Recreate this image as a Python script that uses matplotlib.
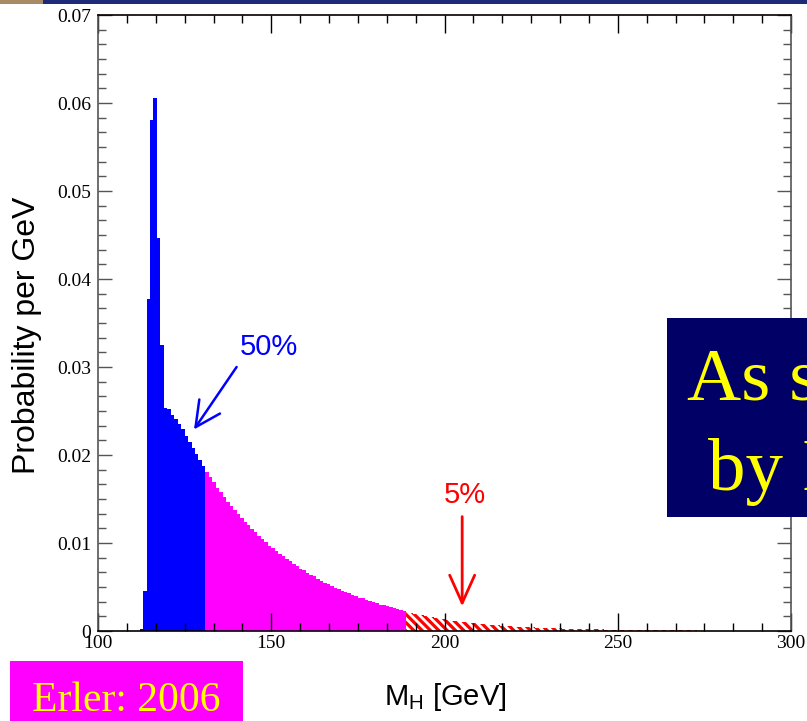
import matplotlib
matplotlib.use("Agg")
import numpy as np
import matplotlib.pyplot as plt
from matplotlib.ticker import MultipleLocator, AutoMinorLocator, FuncFormatter
from matplotlib.patches import Rectangle

# ---------------- data (probability per GeV, 1 GeV bins) ----------------
bin_width = 1.0

blue_start = 112  # 50% region
blue_vals = [0.0002, 0.0045, 0.0377, 0.0581, 0.0606, 0.0447, 0.0325,
             0.0253, 0.0252, 0.0246, 0.0241, 0.0235, 0.0229, 0.0222,
             0.0215, 0.0208, 0.0201, 0.0194, 0.0187]

pink_start = 131
pink_vals = [0.0181, 0.0175, 0.0169, 0.0163, 0.0158, 0.0152, 0.0147, 0.0142,
             0.0137, 0.0133, 0.0128, 0.0124, 0.0120, 0.0116, 0.0112, 0.0108,
             0.0104, 0.0101, 0.0097, 0.0094, 0.0091, 0.0088, 0.0085, 0.0082,
             0.0079, 0.0076, 0.0074, 0.0071, 0.0069, 0.0066, 0.0064, 0.0062,
             0.0059, 0.0057, 0.0055, 0.0053, 0.0051, 0.0049, 0.0048, 0.0046,
             0.0044, 0.0043, 0.0041, 0.0040, 0.0038, 0.0037, 0.0035, 0.0034,
             0.0033, 0.0032, 0.0030, 0.0029, 0.0028, 0.0027, 0.0026, 0.0025,
             0.0024, 0.0023]

red_start = 189  # upper 5% tail
red_vals = [0.00215, 0.00205, 0.00196, 0.00187, 0.00178, 0.00170, 0.00162,
            0.00155, 0.00148, 0.00141, 0.00134, 0.00128, 0.00122, 0.00117,
            0.00111, 0.00106, 0.00101, 0.00097, 0.00092, 0.00088, 0.00084,
            0.00080, 0.00077, 0.00073, 0.00070, 0.00067, 0.00064, 0.00061,
            0.00058, 0.00056, 0.00053, 0.00051, 0.00049, 0.00047, 0.00045,
            0.00043, 0.00041, 0.00039, 0.00038, 0.00036, 0.00035, 0.00033,
            0.00032, 0.00031, 0.00029, 0.00028, 0.00027, 0.00026, 0.00025,
            0.00024, 0.00023, 0.00022, 0.00021, 0.00020, 0.00019, 0.00019,
            0.00018, 0.00017, 0.00016, 0.00016, 0.00015, 0.00015, 0.00014,
            0.00013, 0.00013, 0.00012, 0.00012, 0.00011, 0.00011, 0.00010,
            0.00010, 0.00010, 0.00009, 0.00009, 0.00008, 0.00008, 0.00008,
            0.00007, 0.00007, 0.00007, 0.00006, 0.00006, 0.00006, 0.00006,
            0.00005, 0.00005, 0.00005, 0.00005, 0.00004, 0.00004, 0.00004,
            0.00004, 0.00004, 0.00003, 0.00003]

x_range = (100, 300)
y_range = (0, 0.07)

# annotations
label50 = "50%"
label50_pos = (149.4, 0.0314)
arrow50_from = (140.0, 0.0300)
arrow50_to = (127.7, 0.0229)
label5 = "5%"
label5_pos = (205.8, 0.0145)
arrow5_from = (205.1, 0.0130)
arrow5_to = (205.1, 0.0028)

# ---------------- styling ----------------
plt.rcParams['hatch.linewidth'] = 2.3
plt.rcParams['mathtext.fontset'] = 'custom'
plt.rcParams['mathtext.rm'] = 'Liberation Sans'
plt.rcParams['mathtext.it'] = 'Liberation Sans'
sans = ['Liberation Sans', 'DejaVu Sans']

W, H = 807, 721
fig = plt.figure(figsize=(W / 100, H / 100), dpi=100)
fig.patch.set_facecolor('white')
ax = fig.add_axes([98 / W, 1 - 631 / H, 693 / W, 616 / H])


def edges(start, n):
    return start + bin_width * np.arange(n + 1)


ax.stairs(blue_vals, edges(blue_start, len(blue_vals)), fill=True,
          facecolor='#0000ff', edgecolor='#0000ff', linewidth=0)
ax.stairs(pink_vals, edges(pink_start, len(pink_vals)), fill=True,
          facecolor='#ff00ff', edgecolor='#ff00ff', linewidth=0)
ax.stairs(red_vals, edges(red_start, len(red_vals)), fill=True,
          facecolor='white', edgecolor='#ff0000', hatch='\\\\\\\\', linewidth=0)

ax.set_xlim(*x_range)
ax.set_ylim(*y_range)

ax.xaxis.set_major_locator(MultipleLocator(50))
ax.xaxis.set_minor_locator(AutoMinorLocator(6))
ax.yaxis.set_major_locator(MultipleLocator(0.01))
ax.yaxis.set_minor_locator(AutoMinorLocator(6))
ax.yaxis.set_major_formatter(FuncFormatter(lambda v, p: '0' if abs(v) < 1e-9 else f'{v:.2f}'))

ax.tick_params(axis='x', which='both', direction='in', top=True, bottom=True, color='black')
ax.tick_params(axis='x', which='major', length=13, width=1.0, pad=3, labelsize=14,
               labelfontfamily='Liberation Serif')
ax.tick_params(axis='x', which='minor', length=6, width=1.0)
ax.tick_params(axis='y', which='both', direction='in', left=True, right=True, color='#555555')
ax.tick_params(axis='y', which='major', length=10, width=1.0, pad=5, labelsize=14,
               labelfontfamily='Liberation Serif')
ax.tick_params(axis='y', which='minor', length=5.5, width=1.0)

for side in ['left', 'right']:
    ax.spines[side].set_color('#555555')
    ax.spines[side].set_linewidth(1.2)
for side in ['top', 'bottom']:
    ax.spines[side].set_color('black')
    ax.spines[side].set_linewidth(1.2)

# annotations
ax.annotate('', xy=arrow50_to, xytext=arrow50_from,
            arrowprops=dict(arrowstyle='->,head_length=0.9,head_width=0.45',
                            color='#0000ff', lw=1.8, mutation_scale=20,
                            shrinkA=0, shrinkB=0))
ax.text(*label50_pos, label50, color='#0000ff', fontsize=21, family=sans,
        ha='center', va='baseline')
ax.annotate('', xy=arrow5_to, xytext=arrow5_from,
            arrowprops=dict(arrowstyle='->,head_length=1.0,head_width=0.45',
                            color='#ff0000', lw=2.0, mutation_scale=20,
                            shrinkA=0, shrinkB=0))
ax.text(*label5_pos, label5, color='#ff0000', fontsize=21, family=sans,
        ha='center', va='baseline')

# axis labels
fig.text(27 / W, 1 - 335 / H, 'Probability per GeV', rotation=90, ha='center',
         va='center', fontsize=23, family='Liberation Sans')
fig.text(445 / W, 1 - 705 / H, r'M$_{\mathrm{H}}$ [GeV]', ha='center', va='baseline',
         fontsize=21, family=sans)

# slide overlays
fig.add_artist(Rectangle((0, 1 - 4 / H), 1, 4 / H, transform=fig.transFigure,
                         facecolor='#1c2a78', edgecolor='none', zorder=10))
fig.add_artist(Rectangle((0, 1 - 4 / H), 43 / W, 4 / H, transform=fig.transFigure,
                         facecolor='#a88a64', edgecolor='none', zorder=11))

fig.add_artist(Rectangle((667 / W, 1 - 517 / H), 0.3, 199 / H, transform=fig.transFigure,
                         facecolor='#000066', edgecolor='none', zorder=10))
fig.text(687 / W, 1 - 400 / H, 'As s', color='#ffff00', fontsize=54,
         family='Liberation Serif', ha='left', va='baseline', zorder=12)
fig.text(708 / W, 1 - 490 / H, 'by I', color='#ffff00', fontsize=54,
         family='Liberation Serif', ha='left', va='baseline', zorder=12)

fig.add_artist(Rectangle((10 / W, 0), 233 / W, 60 / H, transform=fig.transFigure,
                         facecolor='#ff00ff', edgecolor='none', zorder=10))
fig.text(126 / W, 1 - 711 / H, 'Erler: 2006', color='#ffff00', fontsize=30,
         family='Liberation Serif', ha='center', va='baseline', zorder=12)

fig.savefig('out.png', dpi=100)
